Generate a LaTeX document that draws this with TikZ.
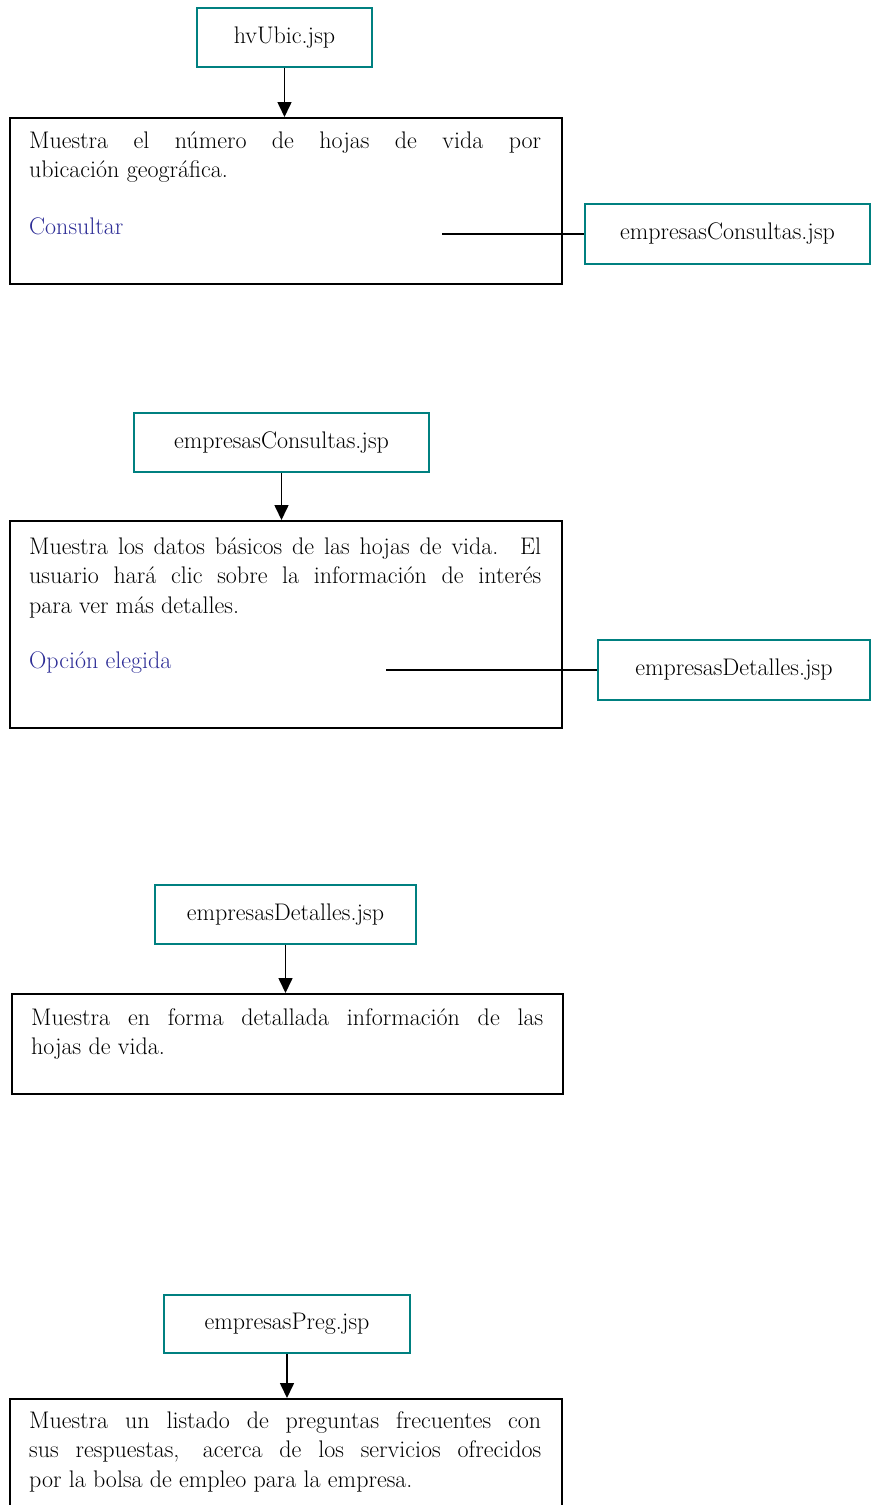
\documentclass[tikz,border=0pt]{standalone}
\usetikzlibrary{arrows.meta,positioning}
\definecolor{verdeazul}{RGB}{0,128,128}
\definecolor{azulenlace}{RGB}{45,45,150}
\newcommand{\letra}{\fontsize{24}{29.5}\selectfont}
\begin{document}
\begin{tikzpicture}[x=1pt,y=-1pt,
    pagina/.style={draw,line width=1.6pt,anchor=north west,inner sep=0pt},
    jsp/.style={draw=verdeazul,line width=1.6pt,minimum height=59pt,inner sep=0pt,font=\letra},
    texto/.style={inner sep=0pt,text width=512pt,align=justify,font=\letra},
    enlace/.style={inner sep=0pt,text=azulenlace,font=\letra},
    flecha/.style={line width=1.6pt,-{Triangle[length=15pt,width=14pt]}},
    linea/.style={line width=1.6pt}]
    \useasboundingbox (0,0) rectangle (872,1505);
    \clip (0,0) rectangle (872,1505);
    % hvUbic.jsp
    \node[jsp,minimum width=175pt] (jsp1) at (284.5,37.5) {hvUbic.jsp};
    \node[pagina,minimum width=552pt,minimum height=166pt] (pag1) at (9,117) {};
    \node[texto,below right=10.3pt and 20pt of pag1.north west] (des1)
        {\strut Muestra el número de hojas de vida por\linebreak ubicación geográfica.};
    \node[enlace,below right=96.3pt and 20pt of pag1.north west] (enl1) {\strut Consultar};
    \node[jsp,minimum width=285pt,minimum height=60pt] (res1) at (727.5,234) {empresasConsultas.jsp};
    \coordinate (ini1) at (442,234);
    \draw[linea] (ini1) -- (res1.west);
    % empresasConsultas.jsp
    \node[jsp,minimum width=295pt] (jsp2) at (281.5,442.5) {empresasConsultas.jsp};
    \node[pagina,minimum width=552pt,minimum height=207pt] (pag2) at (9,520) {};
    \node[texto,below right=13.3pt and 20pt of pag2.north west] (des2)
        {\strut Muestra los datos básicos de las hojas de vida. \thinspace El\linebreak
         usuario hará clic sobre la información de interés\linebreak
         para ver más detalles.};
    \node[enlace,below right=127.3pt and 20pt of pag2.north west] (enl2) {\strut Opción elegida};
    \node[jsp,minimum width=272pt,minimum height=60pt] (res2) at (734,670) {empresasDetalles.jsp};
    \coordinate (ini2) at (386,670);
    \draw[linea] (ini2) -- (res2.west);
    % empresasDetalles.jsp
    \node[jsp,minimum width=261pt] (jsp3) at (285.5,914.5) {empresasDetalles.jsp};
    \node[pagina,minimum width=551pt,minimum height=100pt] (pag3) at (11,993) {};
    \node[texto,below right=11.3pt and 20pt of pag3.north west] (des3)
        {\strut Muestra en forma detallada información de las\linebreak hojas de vida.};
    % empresasPreg.jsp
    \node[jsp,minimum width=246pt,minimum height=58pt] (jsp4) at (287,1324) {empresasPreg.jsp};
    \node[pagina,minimum width=552pt,minimum height=140pt] (pag4) at (9,1398) {};
    \node[texto,below right=9.3pt and 20pt of pag4.north west] (des4)
        {\strut Muestra un listado de preguntas frecuentes con\linebreak
         sus respuestas, \thinspace acerca de los servicios ofrecidos\linebreak
         por la bolsa de empleo para la empresa.};
    \foreach \i in {1,...,4}
        \draw[flecha] (jsp\i.south) -- (jsp\i.south |- pag\i.north);
\end{tikzpicture}
\end{document}
